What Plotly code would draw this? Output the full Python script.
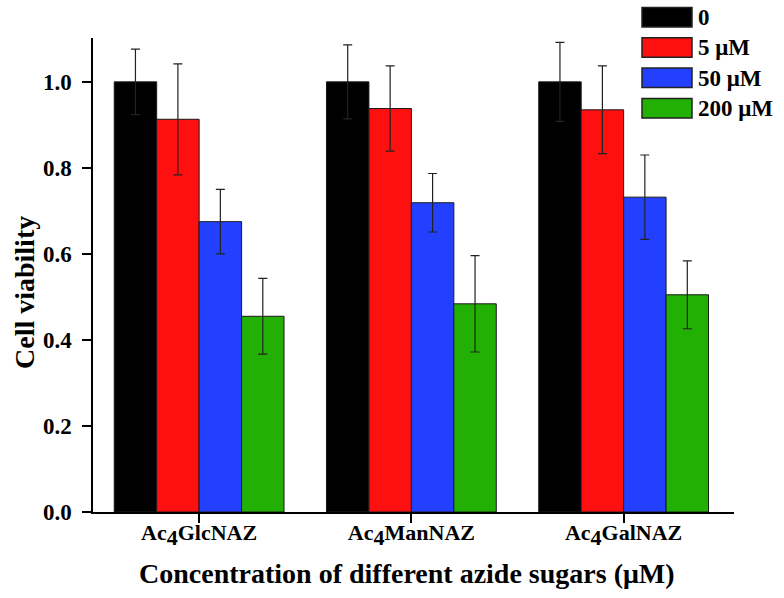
import plotly.graph_objects as go

# dados
sugars = ["GlcNAZ", "ManNAZ", "GalNAZ"]
doses = ["0", "5 μM", "50 μM", "200 μM"]
colors = ["#000000", "#ff1010", "#2340ff", "#22b004"]

via_0 = [1.0, 1.0, 1.0]
via_5 = [0.913, 0.938, 0.935]
via_50 = [0.675, 0.719, 0.732]
via_200 = [0.455, 0.484, 0.505]

err_0 = [0.076, 0.086, 0.092]
err_5 = [0.129, 0.099, 0.102]
err_50 = [0.075, 0.068, 0.098]
err_200 = [0.088, 0.112, 0.079]

y_ticks = [0, 0.2, 0.4, 0.6, 0.8, 1.0]

values = [via_0, via_5, via_50, via_200]
errors = [err_0, err_5, err_50, err_200]

FONT = "Liberation Serif, Times New Roman, serif"
W, H = 784, 598
L, R, T, B = 93, 50, 38, 86

fig = go.Figure()
for name, col, v, e in zip(doses, colors, values, errors):
    fig.add_trace(go.Bar(
        x=sugars, y=v, name=name,
        marker=dict(color=col, line=dict(color="#1a1a1a", width=1)),
        error_y=dict(type="data", array=e, symmetric=True,
                     color="#222222", thickness=1.2, width=4.5),
        showlegend=False,
    ))

# converter pixels -> coordenadas paper
def px_x(px):
    return (px - L) / (W - L - R)

def px_y(py):
    return (H - B - py) / (H - T - B)

# legenda desenhada à mão (caixas grandes como no original)
for i, (name, col) in enumerate(zip(doses, colors)):
    top = 7.5 + i * 30.3
    fig.add_shape(type="rect", xref="paper", yref="paper",
                  x0=px_x(642), x1=px_x(692), y0=px_y(top + 19.5), y1=px_y(top),
                  fillcolor=col, line=dict(color="#222222", width=1.5))
    fig.add_annotation(xref="paper", yref="paper", x=px_x(697), y=px_y(top + 10),
                       text=f"<b>{name}</b>", showarrow=False,
                       xanchor="left", yanchor="middle", borderpad=0,
                       font=dict(family=FONT, size=23, color="black"))

# títulos dos eixos
fig.add_annotation(xref="paper", yref="paper", x=px_x(407), y=px_y(573),
                   text="<b>Concentration of different azide sugars (μM)</b>",
                   showarrow=False, xanchor="center", yanchor="middle",
                   font=dict(family=FONT, size=28, color="black"))
fig.add_annotation(xref="paper", yref="paper", x=px_x(24), y=px_y(293),
                   text="<b>Cell viability</b>", textangle=-90,
                   showarrow=False, xanchor="center", yanchor="middle",
                   font=dict(family=FONT, size=28, color="black"))

fig.update_layout(
    width=W, height=H,
    margin=dict(l=L, r=R, t=T, b=B),
    paper_bgcolor="white", plot_bgcolor="white",
    barmode="group", bargap=0.2, bargroupgap=0,
    font=dict(family=FONT, color="black"),
    xaxis=dict(
        type="category", range=[-0.5, 2.52], automargin=False,
        tickvals=sugars,
        ticktext=[f"<b>Ac<sub><span style='font-size:22px'>4</span></sub>{s}</b>" for s in sugars],
        showline=True, linecolor="black", linewidth=1.5,
        ticks="outside", ticklen=9, tickwidth=1.5, tickcolor="black",
        tickfont=dict(family=FONT, size=22, color="black"),
        ticklabelstandoff=-9,
        showgrid=False, zeroline=False,
    ),
    yaxis=dict(
        range=[0, 1.102], automargin=False,
        tickvals=y_ticks,
        ticktext=[f"<b>{t:.1f}</b>" for t in y_ticks],
        showline=True, linecolor="black", linewidth=1.5,
        ticks="outside", ticklen=9, tickwidth=1.5, tickcolor="black",
        tickfont=dict(family=FONT, size=23, color="black"),
        ticklabelstandoff=6,
        showgrid=False, zeroline=False,
    ),
)

# tirar a margem padrão do body para a figura ocupar a janela toda
fig.write_html("out.html", config={"displayModeBar": False},
               post_script="document.body.style.margin='0';")
